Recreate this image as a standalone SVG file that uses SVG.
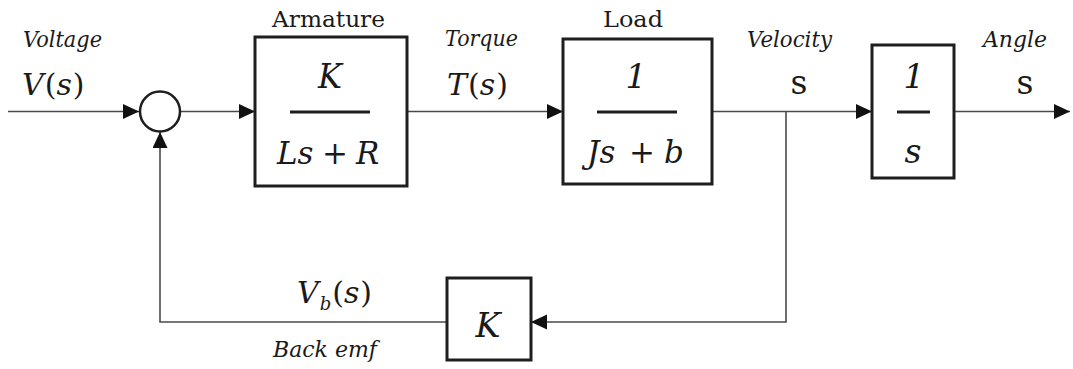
<svg xmlns="http://www.w3.org/2000/svg" width="1073" height="369" viewBox="0 0 1073 369" font-family="DejaVu Serif, serif">
<style>
text{font-family:"DejaVu Serif",serif;fill:#1a1a1a}
.lbl{font-size:22px;font-style:italic}
.up{font-size:23px}
.m{font-size:33px}
.d{font-size:31px}
.v{font-size:30px}
.i{font-style:italic}
.box{fill:#fff;stroke:#1e1e1e;stroke-width:3}
.frac{stroke:#1e1e1e;stroke-width:3}
.wire{fill:none;stroke:#4a4a4a;stroke-width:1.6}
</style>
<defs>
<marker id="arr" markerUnits="userSpaceOnUse" markerWidth="17" markerHeight="16" refX="16" refY="7.5" orient="auto">
<path d="M0,0 L16,7.5 L0,15 z" fill="#111"/>
</marker>
</defs>
<rect width="1073" height="369" fill="#fff"/>
<g id="connectors">
<path class="wire" d="M8,111.5 H139" marker-end="url(#arr)"/>
<path class="wire" d="M181,111.5 H255" marker-end="url(#arr)"/>
<path class="wire" d="M407,111.5 H563" marker-end="url(#arr)"/>
<path class="wire" d="M712,111.5 H872" marker-end="url(#arr)"/>
<path class="wire" d="M954,111.5 H1070" marker-end="url(#arr)"/>
<path class="wire" d="M786,111.5 V322 H531" marker-end="url(#arr)"/>
<path class="wire" d="M447,322 H160 V132" marker-end="url(#arr)"/>
</g>
<g id="sum">
<circle cx="160" cy="111.5" r="20" fill="#fff" stroke="#1e1e1e" stroke-width="2.5"/>
</g>
<g id="armature">
<rect class="box" x="255" y="37" width="152" height="149"/>
<line class="frac" x1="290" y1="112" x2="370" y2="112"/>
<text class="m i" x="330" y="88" text-anchor="middle" textLength="24" lengthAdjust="spacingAndGlyphs">K</text>
<text class="d i" x="277" y="164">Ls</text>
<text class="d" x="335" y="164" text-anchor="middle">+</text>
<text class="d i" x="356" y="164">R</text>
<text class="up" x="272" y="27" textLength="113" lengthAdjust="spacingAndGlyphs">Armature</text>
</g>
<g id="load">
<rect class="box" x="563" y="39" width="149" height="145"/>
<line class="frac" x1="597" y1="112" x2="677" y2="112" stroke-width="2.4"/>
<text class="m i" x="636" y="88" text-anchor="middle">1</text>
<text class="d i" x="587" y="163">Js</text>
<text class="d" x="642" y="163" text-anchor="middle">+</text>
<text class="d i" x="664" y="163">b</text>
<text class="up" x="603" y="27" textLength="60" lengthAdjust="spacingAndGlyphs">Load</text>
</g>
<g id="integrator">
<rect class="box" x="872" y="45" width="82" height="133"/>
<line class="frac" x1="897" y1="112" x2="930" y2="112"/>
<text class="m i" x="914" y="88" text-anchor="middle">1</text>
<text class="m i" x="913" y="163" text-anchor="middle">s</text>
</g>
<g id="gain">
<rect class="box" x="447" y="278" width="84" height="82"/>
<text class="m i" x="488" y="337" text-anchor="middle" textLength="25" lengthAdjust="spacingAndGlyphs">K</text>
</g>
<g id="labels">
<text class="lbl" x="23" y="47" textLength="79" lengthAdjust="spacingAndGlyphs">Voltage</text>
<text class="v" x="22" y="95"><tspan class="i">V</tspan><tspan dx="1">(</tspan><tspan class="i">s</tspan><tspan dx="1">)</tspan></text>
<text class="lbl" x="445" y="46" textLength="73" lengthAdjust="spacingAndGlyphs">Torque</text>
<text class="v" x="447" y="95"><tspan class="i">T</tspan><tspan dx="1">(</tspan><tspan class="i">s</tspan><tspan dx="1">)</tspan></text>
<text class="lbl" x="747" y="47" textLength="85" lengthAdjust="spacingAndGlyphs">Velocity</text>
<text class="m" x="799" y="94" text-anchor="middle" font-size="29">s</text>
<text class="lbl" x="983" y="47" textLength="64" lengthAdjust="spacingAndGlyphs">Angle</text>
<text class="m" x="1025" y="94" text-anchor="middle" font-size="29">s</text>
<text class="v" x="297" y="303"><tspan class="i">V</tspan><tspan class="i" font-size="18" dy="7" dx="1">b</tspan><tspan dy="-7" dx="1">(</tspan><tspan class="i">s</tspan><tspan dx="1">)</tspan></text>
<text class="lbl" x="273" y="357" textLength="104" lengthAdjust="spacingAndGlyphs">Back emf</text>
</g>
</svg>
